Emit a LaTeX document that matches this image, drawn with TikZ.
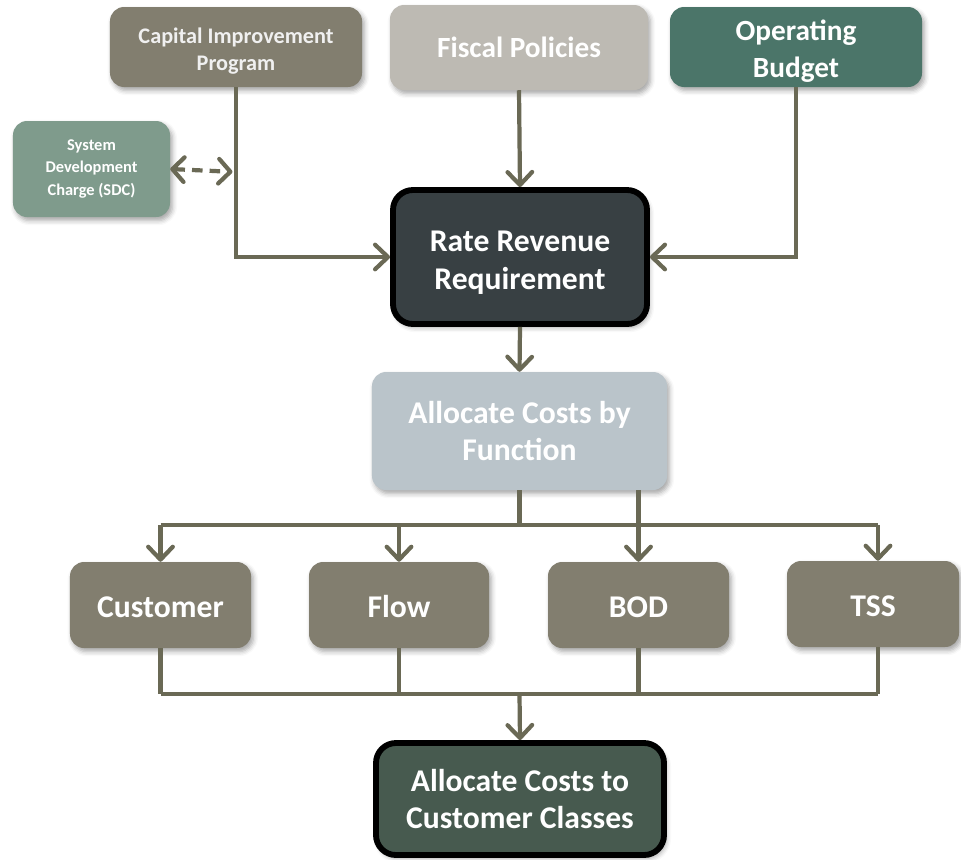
\documentclass[tikz,border=0pt]{standalone}
\usepackage{fontspec}
\setmainfont{Carlito}
\usetikzlibrary{arrows.meta,shadows.blur}
\definecolor{cipc}{HTML}{827E6F}
\definecolor{fisc}{HTML}{BDBAB3}
\definecolor{opc}{HTML}{4B7569}
\definecolor{sdcc}{HTML}{7F9B8C}
\definecolor{rrrc}{HTML}{384043}
\definecolor{afc}{HTML}{BAC4CA}
\definecolor{botc}{HTML}{475A4F}
\definecolor{linec}{HTML}{6A6955}
\tikzset{
  boxbase/.style={rectangle, rounded corners=12pt, draw=none, text=white,
    font=\bfseries, align=center, inner sep=0pt,
    blur shadow={shadow xshift=2pt, shadow yshift=-3pt, shadow blur radius=4pt, shadow opacity=35}},
  bigtext/.style={font=\fontsize{27}{32}\selectfont\bfseries},
  midtext/.style={font=\fontsize{25}{31.5}\selectfont\bfseries},
  ciptext/.style={font=\fontsize{19}{23}\selectfont\bfseries},
  sdctext/.style={font=\fontsize{14}{19}\selectfont\bfseries},
  keybox/.style={boxbase, draw=black, line width=5pt, rounded corners=17pt},
  conn/.style={draw=linec, line width=3.6pt},
  arr/.style={conn, -{Straight Barb[length=11pt, width=21pt, round]}},
  dblarr/.style={conn, {Straight Barb[length=10pt, width=21pt, round]}-{Straight Barb[length=10pt, width=21pt, round]}, dash pattern=on 9pt off 6pt},
}
\begin{document}
\begin{tikzpicture}[x=0.03cm, y=-0.03cm]
\useasboundingbox (0,0) rectangle (961,859);

% top row
\node[boxbase, ciptext, fill=cipc, text=white!94!black, minimum width=7.56cm, minimum height=2.4cm] (cip) at (236,47) {\rule{0pt}{20pt}Capital Improvement\\Program};
\node[boxbase, midtext, fill=fisc, minimum width=7.74cm, minimum height=2.55cm] (fis) at (519,47.5) {Fiscal Policies};
\node[boxbase, midtext, fill=opc, minimum width=7.56cm, minimum height=2.4cm] (op) at (796,47) {\rule{0pt}{24pt}Operating\\Budget};
\node[boxbase, sdctext, fill=sdcc, minimum width=4.71cm, minimum height=2.88cm] (sdc) at (91.5,169) {System\\Development\\Charge (SDC)};

% key boxes
\node[keybox, bigtext, fill=rrrc, minimum width=7.62cm, minimum height=4.02cm] (rrr) at (520,257) {\rule{0pt}{27pt}Rate Revenue\\[1pt]Requirement};
\node[boxbase, bigtext, fill=afc, minimum width=8.85cm, minimum height=3.54cm] (af) at (519.5,431) {Allocate Costs by\\Function};

% function boxes
\node[boxbase, bigtext, fill=cipc, minimum width=5.43cm, minimum height=2.58cm] (cust) at (160.5,605) {\rule{0pt}{22pt}Customer};
\node[boxbase, bigtext, fill=cipc, minimum width=5.4cm, minimum height=2.58cm] (flow) at (399,605) {\rule{0pt}{22pt}Flow};
\node[boxbase, bigtext, fill=cipc, minimum width=5.43cm, minimum height=2.58cm] (bod) at (638.5,605) {\rule{0pt}{22pt}BOD};
\node[boxbase, bigtext, fill=cipc, minimum width=5.16cm, minimum height=2.58cm] (tss) at (873,604) {\rule{0pt}{22pt}TSS};

% bottom
\node[keybox, bigtext, fill=botc, minimum width=8.64cm, minimum height=3.36cm] (cls) at (520,799) {Allocate Costs to\\Customer Classes};

% coordinates
\coordinate (s1) at (236,172);
\coordinate (j1) at (519.5,525);
\coordinate (t1) at (878,525);
\coordinate (j2) at (519.5,694);
\coordinate (t2) at (878,694);

% top connectors
\draw[arr] (cip.south) |- (rrr.west);
\draw[arr] (fis.south) -- (rrr.north);
\draw[arr] (op.south) |- (rrr.east);
\draw[dblarr, shorten >=3pt] (sdc.east) -- (s1);
\draw[arr] (rrr.south) -- (af.north);

% branching to functions
\draw[conn] (af.south) -- (j1);
\draw[conn] (j1 -| cust.north) -- (t1);
\draw[arr] (j1 -| cust.north) -- (cust.north);
\draw[arr] (j1 -| flow.north) -- (flow.north);
\draw[arr] (af.south -| bod.north) -- (bod.north);
\draw[arr] (t1) -- (t1 |- tss.north);

% gathering to classes
\draw[conn] (cust.south) -- (j2 -| cust.south);
\draw[conn] (flow.south) -- (j2 -| flow.south);
\draw[conn] (bod.south) -- (j2 -| bod.south);
\draw[conn] (t1 |- tss.south) -- (t2);
\draw[conn] (j2 -| cust.south) -- (t2);
\draw[arr] (j2) -- (cls.north);
\end{tikzpicture}
\end{document}
